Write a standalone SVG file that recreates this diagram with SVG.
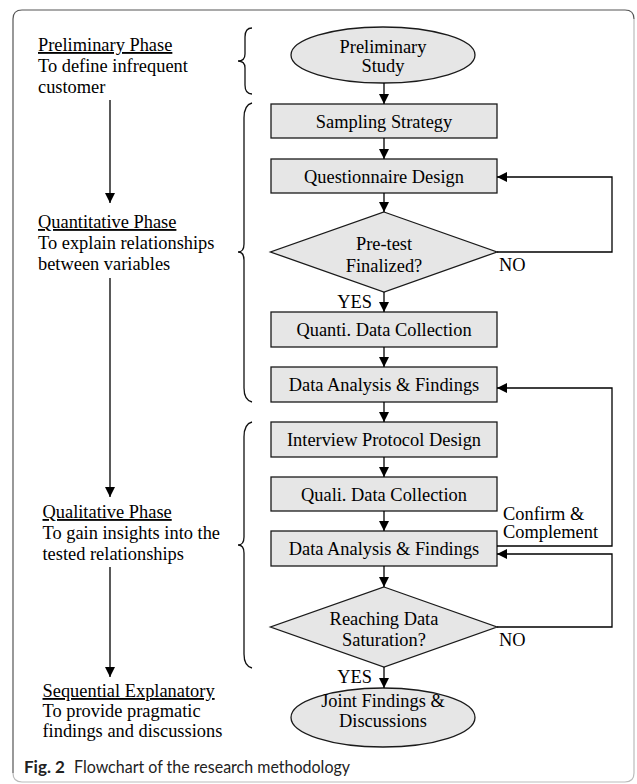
<svg xmlns="http://www.w3.org/2000/svg" width="637" height="784" viewBox="0 0 637 784">
  <defs>
    <marker id="head" markerUnits="userSpaceOnUse" markerWidth="10" markerHeight="10" refX="10" refY="5" orient="auto">
      <path d="M0,0 L10,5 L0,10 Z" fill="#000"/>
    </marker>
    <style>
      .t { font-family: "Liberation Serif", "Times New Roman", serif; font-size: 18.4px; fill: #000; }
      .c { text-anchor: middle; }
      .u { text-decoration: underline; }
      .box { fill: #e6e6e6; stroke: #1a1a1a; stroke-width: 1.3; }
      .arr { fill: none; stroke: #000; stroke-width: 1.3; marker-end: url(#head); }
      .brace { fill: none; stroke: #111; stroke-width: 1.3; }
      .cap { font-family: Lato, "Open Sans", sans-serif; font-size: 17px; fill: #222; }
    </style>
  </defs>

  <rect width="637" height="784" fill="#fff"/>

  <!-- outer frame -->
  <path d="M13,773 L13,19 Q13,10 22,10 L625,10 Q634,10 634,19" fill="none" stroke="#555" stroke-width="1.2"/>
  <path d="M634,19 L634,773 Q634,782 625,782 L22,782 Q13,782 13,773" fill="none" stroke="#bbb" stroke-width="1.2"/>

  <!-- phase descriptions -->
  <g id="phase-preliminary">
    <text class="t u" x="38" y="51">Preliminary Phase</text>
    <text class="t" x="38" y="71.5">To define infrequent</text>
    <text class="t" x="38" y="92.5">customer</text>
  </g>
  <g id="phase-quantitative">
    <text class="t u" x="38" y="228">Quantitative Phase</text>
    <text class="t" x="38" y="249">To explain relationships</text>
    <text class="t" x="38" y="270">between variables</text>
  </g>
  <g id="phase-qualitative">
    <text class="t u" x="42.5" y="518">Qualitative Phase</text>
    <text class="t" x="42.5" y="539">To gain insights into the</text>
    <text class="t" x="42.5" y="560">tested relationships</text>
  </g>
  <g id="phase-sequential">
    <text class="t u" x="42.5" y="697">Sequential Explanatory</text>
    <text class="t" x="42.5" y="717">To provide pragmatic</text>
    <text class="t" x="42.5" y="737">findings and discussions</text>
  </g>

  <!-- braces grouping the steps of each phase -->
  <g id="braces">
    <path class="brace" d="M252,28 Q245,28 245,37 L245,54 Q245,61 238,61 Q245,61 245,68 L245,85 Q245,94 252,94"/>
    <path class="brace" d="M252,103 Q244,105 244,118 L244,244 Q244,252 238,252 Q244,252 244,260 L244,388 Q244,400 252,402"/>
    <path class="brace" d="M252,422 Q244,424 244,437 L244,537 Q244,545 238,545 Q244,545 244,553 L244,654 Q244,666 252,668"/>
  </g>

  <!-- nodes -->
  <g id="n-preliminary-study">
    <ellipse class="box" cx="383" cy="55" rx="92" ry="28"/>
    <text class="t c" x="383" y="53">Preliminary</text>
    <text class="t c" x="383" y="72">Study</text>
  </g>
  <g id="n-sampling">
    <rect class="box" x="271" y="104" width="226" height="34"/>
    <text class="t c" x="384" y="127.5">Sampling Strategy</text>
  </g>
  <g id="n-questionnaire">
    <rect class="box" x="271" y="159" width="226" height="34"/>
    <text class="t c" x="384" y="182.5">Questionnaire Design</text>
  </g>
  <g id="n-pretest">
    <polygon class="box" points="384,212 497,252 384,292 270.5,252"/>
    <text class="t c" x="384" y="250">Pre-test</text>
    <text class="t c" x="384" y="271.5">Finalized?</text>
  </g>
  <g id="n-quanti-collection">
    <rect class="box" x="271" y="312" width="226" height="35"/>
    <text class="t c" x="384" y="336">Quanti. Data Collection</text>
  </g>
  <g id="n-quanti-analysis">
    <rect class="box" x="271" y="367" width="226" height="35"/>
    <text class="t c" x="384" y="391">Data Analysis &amp; Findings</text>
  </g>
  <g id="n-interview">
    <rect class="box" x="271" y="422" width="226" height="35"/>
    <text class="t c" x="384" y="446">Interview Protocol Design</text>
  </g>
  <g id="n-quali-collection">
    <rect class="box" x="271" y="477" width="226" height="34"/>
    <text class="t c" x="384" y="500.5">Quali. Data Collection</text>
  </g>
  <g id="n-quali-analysis">
    <rect class="box" x="271" y="531" width="226" height="35"/>
    <text class="t c" x="384" y="555">Data Analysis &amp; Findings</text>
  </g>
  <g id="n-saturation">
    <polygon class="box" points="384,587 497,627 384,667 270.5,627"/>
    <text class="t c" x="384" y="625">Reaching Data</text>
    <text class="t c" x="384" y="646">Saturation?</text>
  </g>
  <g id="n-joint">
    <ellipse class="box" cx="383" cy="717.5" rx="92" ry="29.5"/>
    <text class="t c" x="383" y="707">Joint Findings &amp;</text>
    <text class="t c" x="383" y="727">Discussions</text>
  </g>

  <!-- connectors -->
  <g id="connectors">
    <line class="arr" x1="110" y1="100" x2="110" y2="203"/>
    <line class="arr" x1="110" y1="278" x2="110" y2="497"/>
    <line class="arr" x1="110" y1="567" x2="110" y2="677"/>

    <line class="arr" x1="384" y1="83" x2="384" y2="104"/>
    <line class="arr" x1="384" y1="138" x2="384" y2="159"/>
    <line class="arr" x1="384" y1="193" x2="384" y2="212"/>
    <line class="arr" x1="384" y1="292" x2="384" y2="312"/>
    <line class="arr" x1="384" y1="347" x2="384" y2="367"/>
    <line class="arr" x1="384" y1="402" x2="384" y2="422"/>
    <line class="arr" x1="384" y1="457" x2="384" y2="477"/>
    <line class="arr" x1="384" y1="511" x2="384" y2="531"/>
    <line class="arr" x1="384" y1="566" x2="384" y2="587"/>
    <line class="arr" x1="384" y1="667" x2="384" y2="688"/>

    <polyline class="arr" points="497,252 612,252 612,177 497,177"/>
    <polyline class="arr" points="497,546 612,546 612,388 497,388"/>
    <polyline class="arr" points="497,627 612,627 612,554 497,554"/>

    <text class="t" x="499" y="271">NO</text>
    <text class="t" x="372" y="308" text-anchor="end">YES</text>
    <text class="t" x="503" y="520">Confirm &amp;</text>
    <text class="t" x="503" y="538">Complement</text>
    <text class="t" x="499" y="646">NO</text>
    <text class="t" x="372" y="683" text-anchor="end">YES</text>
  </g>

  <!-- caption -->
  <text class="cap" x="24" y="773"><tspan font-weight="bold">Fig. 2</tspan><tspan x="74" textLength="276" lengthAdjust="spacingAndGlyphs">Flowchart of the research methodology</tspan></text>
</svg>
